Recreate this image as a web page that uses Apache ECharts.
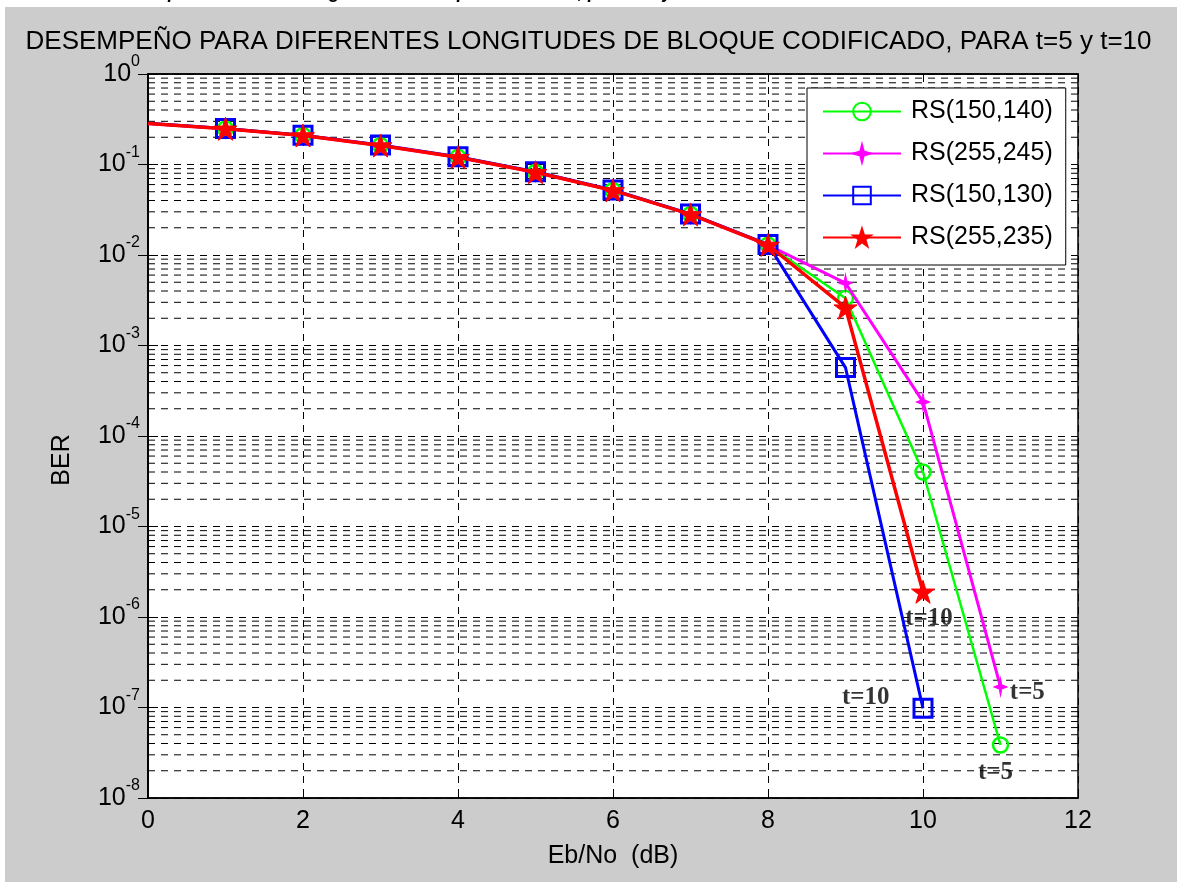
<!DOCTYPE html>
<html>
<head>
<meta charset="utf-8">
<script src="https://cdn.jsdelivr.net/npm/echarts@6/dist/echarts.min.js"></script>
<style>
html,body{margin:0;padding:0;background:#fff;}
#chart{width:1177px;height:882px;}
</style>
</head>
<body>
<div id="chart"></div>
<script>
// ---- data ----
const ebno = [0, 1, 2, 3, 4, 5, 6, 7, 8, 9, 10, 11];
const rs150_140 = [0.284, 0.248, 0.209, 0.162, 0.1205, 0.0822, 0.0517, 0.0281, 0.0129, 0.00332, 4.0e-5, 3.85e-8];
const rs255_245 = [0.284, 0.248, 0.209, 0.162, 0.1205, 0.0822, 0.0517, 0.0281, 0.0129, 0.0049, 2.38e-4, 1.69e-7];
const rs150_130 = [0.286, 0.250, 0.211, 0.164, 0.122, 0.0830, 0.0522, 0.0284, 0.0131, 5.7e-4, 9.8e-8];
const rs255_235 = [0.284, 0.248, 0.209, 0.162, 0.1205, 0.0822, 0.0517, 0.0281, 0.0129, 0.00262, 1.9e-6];
const seriesNames = ['RS(150,140)', 'RS(255,245)', 'RS(150,130)', 'RS(255,235)'];
const xTicks = [0, 2, 4, 6, 8, 10, 12];
const yDecades = [-8, -7, -6, -5, -4, -3, -2, -1, 0];
const minorMult = [2, 3, 4, 5, 6, 7, 8, 9];
const annotTexts = ['t=10', 't=10', 't=5', 't=5'];
const annotX = [9.77, 8.955, 11.12, 10.71];
const annotY = [9.7e-7, 1.29e-7, 1.46e-7, 1.91e-8];
const titleText = 'DESEMPEÑO PARA DIFERENTES LONGITUDES DE BLOQUE CODIFICADO, PARA t=5 y t=10';
const topCutText = 'para diferentes longitudes de bloque codificado, para t=5 y t=10';
const xName = 'Eb/No  (dB)';
const yName = 'BER';

const FONT = '"Liberation Sans", Arial, Helvetica, sans-serif';
const SERIF = '"Liberation Serif", "Times New Roman", serif';
const dash = [7, 6];

function pairs(vals) {
  return vals.map((v, i) => (i === 0 ? { value: [ebno[i], v], symbolSize: 0 } : [ebno[i], v]));
}
const minorValues = [];
yDecades.slice(0, -1).forEach(e => minorMult.forEach(m => minorValues.push(m * Math.pow(10, e))));

const STAR5 = 'path://M50,0 L61.2,34.5 L97.6,34.5 L68.2,55.9 L79.4,90.5 L50,69.1 L20.6,90.5 L31.8,55.9 L2.4,34.5 L38.8,34.5 Z';
const STAR4 = 'path://M50,0 L60,38 L100,50 L60,62 L50,100 L40,62 L0,50 L40,38 Z';

const chart = echarts.init(document.getElementById('chart'), null, { renderer: 'canvas' });
chart.setOption({
  animation: false,
  backgroundColor: '#ffffff',
  graphic: [
    { type: 'rect', z: -100, silent: true, shape: { x: 5, y: 7, width: 1172, height: 875 }, style: { fill: '#cccccc' } },
    { type: 'text', z: 100, silent: true, x: 168, y: -7,
      style: { text: topCutText, font: 'italic bold 18px ' + FONT, fill: '#000', verticalAlign: 'middle', align: 'left' } },
    { type: 'text', z: 100, silent: true, x: 62, y: 460, rotation: Math.PI / 2,
      style: { text: yName, font: '25px ' + FONT, fill: '#000', verticalAlign: 'middle', align: 'center' } }
  ],
  title: {
    text: titleText, left: 'center', top: 24,
    textStyle: { fontFamily: FONT, fontSize: 26, fontWeight: 'normal', color: '#000' }
  },
  legend: {
    orient: 'vertical', left: 807, top: 88,
    padding: [11, 13, 15, 15],
    itemWidth: 78, itemHeight: 22, itemGap: 17,
    backgroundColor: '#ffffff', borderColor: '#000', borderWidth: 1, borderRadius: 0,
    selectedMode: false,
    textStyle: { fontFamily: FONT, fontSize: 25, color: '#000', lineHeight: 22, padding: [0, 0, 0, 5] },
    data: seriesNames
  },
  grid: {
    left: 148, top: 74, width: 930, height: 724,
    show: true, backgroundColor: '#ffffff', borderColor: '#000', borderWidth: 1.5
  },
  xAxis: [{
    type: 'value', min: 0, max: 12, interval: 2,
    name: xName, nameLocation: 'middle', nameGap: 46,
    nameTextStyle: { fontFamily: FONT, fontSize: 25, color: '#000' },
    axisLine: { show: true, lineStyle: { color: '#000', width: 1.5 } },
    axisTick: { show: true, inside: true, length: 8, lineStyle: { color: '#000' } },
    axisLabel: { fontFamily: FONT, fontSize: 25, color: '#000', margin: 10, lineHeight: 26,
      formatter: v => (xTicks.indexOf(v) >= 0 ? String(v) : '') },
    splitLine: { show: true, lineStyle: { type: dash, color: '#000', width: 1 } }
  }, {
    type: 'value', min: 0, max: 12, interval: 2, position: 'top',
    axisLine: { show: true, lineStyle: { color: '#000', width: 1.5 } },
    axisTick: { show: true, inside: true, length: 8, lineStyle: { color: '#000' } },
    axisLabel: { show: false }, splitLine: { show: false }
  }],
  yAxis: [{
    type: 'log', logBase: 10, min: 1e-8, max: 1, interval: 1,
    axisLine: { show: true, lineStyle: { color: '#000', width: 1.5 } },
    axisTick: { show: true, inside: true, length: 10, lineStyle: { color: '#000' } },
    axisLabel: {
      margin: 8, color: '#000',
      formatter: v => '{b|10}{s|' + Math.round(Math.log10(v)) + '}',
      rich: {
        b: { fontFamily: FONT, fontSize: 25, lineHeight: 40, color: '#000' },
        s: { fontFamily: FONT, fontSize: 16, lineHeight: 12, verticalAlign: 'top', color: '#000' }
      }
    },
    splitLine: { show: true, lineStyle: { type: dash, color: '#000', width: 1 } }
  }, {
    type: 'log', logBase: 10, min: 1e-8, max: 1, interval: 1, position: 'right',
    axisLine: { show: true, lineStyle: { color: '#000', width: 1.5 } },
    axisTick: { show: true, inside: true, length: 10, lineStyle: { color: '#000' } },
    axisLabel: { show: false }, splitLine: { show: false }
  }],
  series: [
    {
      name: 'minor-grid', type: 'custom', silent: true, z: 1,
      data: minorValues.map(v => [0, v]),
      renderItem: function (params, api) {
        const v = api.value(1);
        const p1 = api.coord([0, v]);
        const p2 = api.coord([12, v]);
        return {
          type: 'line',
          shape: { x1: p1[0], y1: p1[1], x2: p2[0], y2: p2[1] },
          style: { stroke: '#000', lineWidth: 1, lineDash: dash, fill: null }
        };
      }
    },
    {
      name: seriesNames[0], type: 'line', data: pairs(rs150_140),
      symbol: 'circle', symbolSize: 15, z: 3,
      lineStyle: { color: '#00ff00', width: 2.5 },
      itemStyle: { color: 'rgba(0,0,0,0)', borderColor: '#00ff00', borderWidth: 2.5 }
    },
    {
      name: seriesNames[1], type: 'line', data: pairs(rs255_245),
      symbol: STAR4, symbolSize: [13, 18], z: 4,
      lineStyle: { color: '#ff00ff', width: 3 },
      itemStyle: { color: '#ff00ff', borderColor: '#ff00ff', borderWidth: 1 }
    },
    {
      name: seriesNames[2], type: 'line', data: pairs(rs150_130),
      symbol: 'rect', symbolSize: 18, z: 5,
      lineStyle: { color: '#0000ff', width: 3 },
      itemStyle: { color: 'rgba(0,0,0,0)', borderColor: '#0000ff', borderWidth: 3 }
    },
    {
      name: seriesNames[3], type: 'line', data: pairs(rs255_235),
      symbol: STAR5, symbolSize: 23, z: 6,
      lineStyle: { color: '#ff0000', width: 3.5 },
      itemStyle: { color: '#ff0000', borderColor: '#ff0000', borderWidth: 1 }
    },
    {
      name: 'annotations', type: 'scatter', symbolSize: 0, z: 10, silent: true,
      data: annotTexts.map((t, i) => ({ value: [annotX[i], annotY[i]], name: t })),
      label: {
        show: true, position: 'right', distance: 0,
        formatter: p => p.name,
        fontFamily: SERIF, fontSize: 25, fontWeight: 'bold', color: '#000'
      }
    }
  ]
});
</script>
</body>
</html>
